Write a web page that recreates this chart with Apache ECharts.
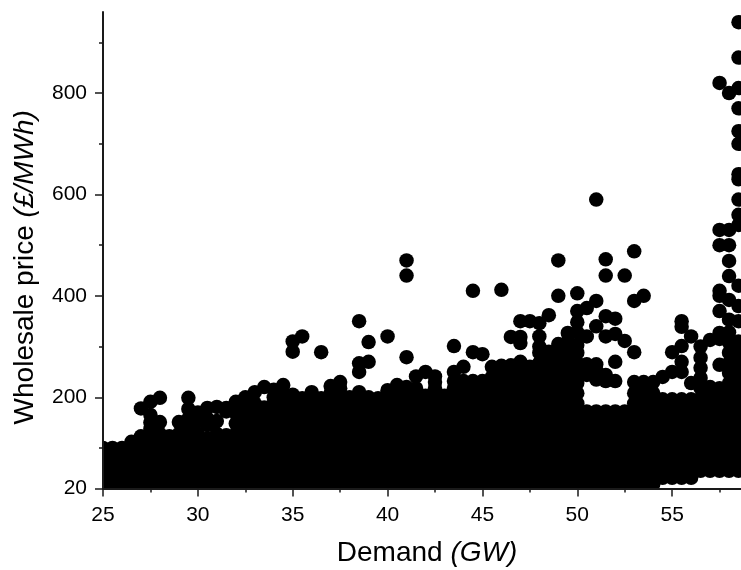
<!DOCTYPE html>
<html><head><meta charset="utf-8">
<style>html,body{margin:0;padding:0;background:#fff}#c{width:741px;height:570px}</style>
<script src="https://cdn.jsdelivr.net/npm/echarts@6/dist/echarts.min.js"></script>
</head><body><div id="c"></div>
<script>
const xMajorTicks=[25,30,35,40,45,50,55];
const xMinorTicks=[27.5,32.5,37.5,42.5,47.5,52.5,57.5];
const yMajorTicks=[20,200,400,600,800];
const yMinorTicks=[100,300,500,700,900];
const xTitle='Demand ', xUnit='(GW)';
const yTitle='Wholesale price ', yUnit='(£/MWh)';
const demand=[25,25.5,26,26.5,27,27.5,28,28.5,29,29.5,30,30.5,31,31.5,32,32.5,33,33.5,34,34.5,35,35.5,36,36.5,37,37.5,38,38.5,39,39.5,40,40.5,41,41.5,42,42.5,43,43.5,44,44.5,45,45.5,46,46.5,47,47.5,48,48.5,49,49.5,50,50.5,51,51.5,52,52.5,53,53.5,54,54.5,55,55.5,56,56.5,57,57.5,58,58.5];
const prices=[
[28,48,68,88,100],
[26,38,58,78,100],
[28,48,68,88,100],
[26,38,58,78,98,112],
[28,48,68,88,108,123,178],
[26,38,58,78,98,118,138,150,165,191],
[28,48,68,88,108,128,151,199],
[26,38,58,78,98,118,123],
[28,48,68,88,108,128,151],
[26,38,58,78,98,118,138,158,177,199],
[28,48,68,88,108,128,153,170],
[26,38,58,78,98,118,145,158,179],
[28,48,68,88,108,128,153,181],
[26,38,58,78,98,118,125,172,179],
[28,48,68,88,108,128,148,168,191],
[26,38,58,78,98,118,138,158,178,200],
[28,48,68,88,108,128,148,168,188,210],
[26,38,58,78,98,118,138,158,180,220],
[28,48,68,88,108,128,148,168,188,200,215],
[26,38,58,78,98,118,138,158,178,198,207,224],
[28,48,68,88,108,128,148,168,188,205,290,310],
[26,38,58,78,98,118,138,158,178,198,320],
[28,48,68,88,108,128,148,168,188,210],
[26,38,58,78,98,118,138,158,178,198,289],
[28,48,68,88,108,128,148,168,188,208,222],
[26,38,58,78,98,118,138,158,178,198,218,230],
[28,48,68,88,108,128,148,168,188,200],
[26,38,58,78,98,118,138,158,178,198,210,250,267,350],
[28,48,68,88,108,128,148,168,188,200,270,309],
[26,38,58,78,98,118,138,158,178,198],
[28,48,68,88,108,128,148,168,188,208,214,320],
[26,38,58,78,98,118,138,158,178,198,218,224],
[28,48,68,88,108,128,148,168,188,208,220,279,440,470],
[26,38,58,78,98,118,138,158,178,198,218,241],
[28,48,68,88,108,128,148,168,188,203,250],
[26,38,58,78,98,118,138,158,178,198,218,230,241],
[28,48,68,88,108,128,148,168,188,203],
[26,38,58,78,98,118,138,158,178,198,218,232,250,301],
[28,48,68,88,108,128,148,168,188,208,232,260],
[26,38,58,78,98,118,138,158,178,198,218,232,289,410],
[28,48,68,88,108,128,148,168,188,208,232,285],
[26,38,58,78,98,118,138,158,178,198,218,240,260],
[28,48,68,88,108,128,148,168,188,208,228,248,262,412],
[26,38,58,78,98,118,138,158,178,198,218,238,263,319],
[28,48,68,88,108,128,148,168,188,208,228,248,270,307,319,350],
[26,38,58,78,98,118,138,158,178,198,218,238,260,350],
[28,48,68,88,108,128,148,168,188,208,228,248,268,288,300,320,346],
[26,38,58,78,98,118,138,158,178,198,218,238,258,278,290,362],
[28,48,68,88,108,128,148,168,188,208,228,248,268,288,305,400,470],
[26,38,58,78,98,118,138,158,178,198,218,238,258,278,298,310,327],
[28,48,68,88,108,128,148,168,188,208,228,248,268,288,303,328,348,370,405],
[26,38,58,78,98,118,138,158,172,244,265,320,376],
[28,48,68,88,108,128,148,172,235,253,265,340,390,590],
[26,38,58,78,98,118,138,158,172,232,244,320,360,440,472],
[28,48,68,88,108,128,148,172,232,270,325,355],
[26,38,58,78,98,118,138,158,172,311,440],
[28,48,68,88,108,128,148,168,188,208,230,289,390,488],
[26,38,58,78,98,118,138,158,178,198,218,230,400],
[28,48,68,88,108,128,148,168,188,208,230],
[41,58,78,98,118,138,158,178,196,240],
[41,48,68,88,108,128,148,168,188,196,250,289],
[41,58,78,98,118,138,158,178,196,250,270,301,339,350],
[41,48,68,88,108,128,148,168,188,196,228,320],
[55,78,98,118,138,158,178,198,218,238,258,278,300],
[55,68,88,108,128,148,168,188,208,220,313],
[55,78,98,118,138,158,178,198,218,264,315,327,370,400,410,500,530,820],
[55,68,88,108,128,148,168,188,208,228,248,268,288,308,328,353,392,439,469,500,530,800],
[55,78,98,118,138,158,178,198,218,238,258,278,298,310,350,380,420,540,560,590,630,640,700,725,770,810,870,940]
];
const points=demand.flatMap((d,i)=>prices[i].map(p=>[d,p]));
const font='"Liberation Sans", Arial, sans-serif';
const lineCol='#1a1a1a';
const titleRich={a:{fontFamily:font,fontSize:28,color:'#000'},b:{fontFamily:font,fontSize:28,fontStyle:'italic',color:'#000'}};
const chart=echarts.init(document.getElementById('c'),null,{renderer:'canvas'});
chart.setOption({
 animation:false,
 backgroundColor:'#fff',
 grid:{left:103,right:0,top:12,bottom:81.5,containLabel:false,outerBoundsMode:'none'},
 graphic:[
  {type:'rect',z:5,silent:true,shape:{x:0,y:0,width:102,height:570},style:{fill:'#fff'}},
  {type:'rect',z:5,silent:true,shape:{x:0,y:489,width:741,height:81},style:{fill:'#fff'}}
 ],
 xAxis:[{
  type:'value',min:25,max:58.63,interval:5,position:'bottom',z:10,
  splitLine:{show:false},
  axisLine:{show:true,onZero:false,lineStyle:{color:lineCol,width:2}},
  axisTick:{show:true,length:8,customValues:xMajorTicks,lineStyle:{color:lineCol,width:1.5}},
  axisLabel:{show:true,customValues:xMajorTicks,fontFamily:font,fontSize:21,color:'#000',margin:16},
  name:'{a|'+xTitle+'}{b|'+xUnit+'}',nameLocation:'middle',nameGap:51,
  nameTextStyle:{padding:[0,0,0,10],rich:titleRich}
 },{
  type:'value',min:25,max:58.63,position:'bottom',z:10,
  splitLine:{show:false},axisLine:{show:false},axisLabel:{show:false},
  axisTick:{show:true,length:4,customValues:xMinorTicks,lineStyle:{color:lineCol,width:1.5}}
 }],
 yAxis:[{
  type:'value',min:20,max:960,position:'left',z:10,
  splitLine:{show:false},
  axisLine:{show:true,onZero:false,lineStyle:{color:lineCol,width:2}},
  axisTick:{show:true,length:8,customValues:yMajorTicks,lineStyle:{color:lineCol,width:1.5}},
  axisLabel:{show:true,customValues:yMajorTicks,fontFamily:font,fontSize:21,color:'#000',margin:16},
  name:'{a|'+yTitle+'}{b|'+yUnit+'}',nameLocation:'middle',nameGap:64,
  nameTextStyle:{padding:[0,34,0,0],rich:titleRich}
 },{
  type:'value',min:20,max:960,position:'left',z:10,
  splitLine:{show:false},axisLine:{show:false},axisLabel:{show:false},
  axisTick:{show:true,length:4,customValues:yMinorTicks,lineStyle:{color:lineCol,width:1.5}}
 }],
 series:[{type:'scatter',xAxisIndex:0,yAxisIndex:0,z:2,data:points,symbol:'circle',symbolSize:14.5,clip:true,silent:true,large:false,
  itemStyle:{color:'#000',opacity:1}}]
});
</script></body></html>
